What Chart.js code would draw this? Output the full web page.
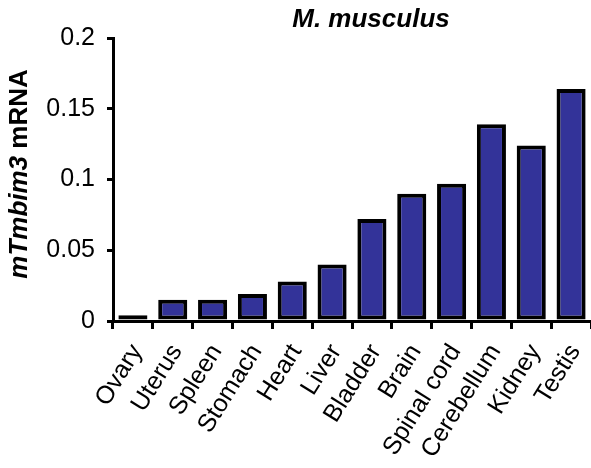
<!DOCTYPE html>
<html>
<head>
<meta charset="utf-8">
<script src="https://cdn.jsdelivr.net/npm/chart.js@4"></script>
<style>
  html, body { margin: 0; padding: 0; background: #fff; }
  #wrap { width: 591px; height: 468px; }
</style>
</head>
<body>
<div id="wrap"><canvas id="tissueChart" width="591" height="468"></canvas></div>
<script>
var tissues = ['Ovary', 'Uterus', 'Spleen', 'Stomach', 'Heart', 'Liver', 'Bladder', 'Brain', 'Spinal cord', 'Cerebellum', 'Kidney', 'Testis'];
var mrnaLevels = [0.004, 0.015, 0.015, 0.019, 0.028, 0.040, 0.072, 0.090, 0.097, 0.139, 0.124, 0.164];
var yTickLabels = ['0', '0.05', '0.1', '0.15', '0.2'];

var FONT = "'Liberation Sans', Arial, sans-serif";

// title and y-axis label (mixed italic / upright parts)
var textPlugin = {
    id: 'textPlugin',
    afterDraw: function (chart) {
        var ctx = chart.ctx;
        ctx.save();
        ctx.fillStyle = '#000';
        ctx.textBaseline = 'alphabetic';
        ctx.textAlign = 'center';
        ctx.font = 'italic bold 26px ' + FONT;
        ctx.fillText('M. musculus', 371, 27);

        ctx.translate(27, 174);
        ctx.rotate(-Math.PI / 2);
        var partA = 'mTmbim3';
        var partB = ' mRNA';
        ctx.font = 'italic bold 26px ' + FONT;
        var wA = ctx.measureText(partA).width;
        ctx.font = 'bold 26px ' + FONT;
        var wB = ctx.measureText(partB).width;
        var x0 = -(wA + wB) / 2;
        ctx.textAlign = 'left';
        ctx.font = 'italic bold 26px ' + FONT;
        ctx.fillText(partA, x0, 0);
        ctx.font = 'bold 26px ' + FONT;
        ctx.fillText(partB, x0 + wA, 0);
        ctx.restore();
    }
};

document.addEventListener('DOMContentLoaded', function () {
    var ctx = document.getElementById('tissueChart').getContext('2d');
    var chart = new Chart(ctx, {
        type: 'bar',
        data: {
            labels: tissues,
            datasets: [{
                data: mrnaLevels,
                backgroundColor: '#333399',
                borderColor: '#000000',
                borderWidth: 4,
                borderSkipped: false,
                categoryPercentage: 1.0,
                barPercentage: 0.73
            }]
        },
        options: {
            responsive: false,
            animation: false,
            layout: { padding: { top: 38, right: 0, bottom: 0, left: 0 } },
            plugins: {
                legend: { display: false },
                title: { display: false },
                tooltip: { enabled: false }
            },
            scales: {
                x: {
                    grid: {
                        offset: true,
                        drawOnChartArea: false,
                        color: '#000',
                        lineWidth: 3,
                        tickLength: 8
                    },
                    border: { color: '#000', width: 3 },
                    ticks: {
                        color: '#000',
                        font: { family: FONT, size: 25 },
                        minRotation: 58,
                        maxRotation: 58,
                        padding: 10,
                        labelOffset: 4,
                        autoSkip: false
                    },
                    afterFit: function (scale) {
                        scale.height = 147;
                        scale.paddingLeft = 0;
                        scale.paddingRight = 0;
                    }
                },
                y: {
                    min: 0,
                    max: 0.2,
                    grid: {
                        drawOnChartArea: false,
                        color: '#000',
                        lineWidth: 3,
                        tickLength: 6
                    },
                    border: { color: '#000', width: 3 },
                    ticks: {
                        stepSize: 0.05,
                        color: '#000',
                        padding: 12,
                        font: { family: FONT, size: 25 },
                        callback: function (value, index) { return yTickLabels[index]; }
                    },
                    afterFit: function (scale) {
                        scale.width = 113;
                        scale.paddingTop = 0;
                        scale.paddingBottom = 0;
                    }
                }
            }
        },
        plugins: [textPlugin]
    });
});
</script>
</body>
</html>
